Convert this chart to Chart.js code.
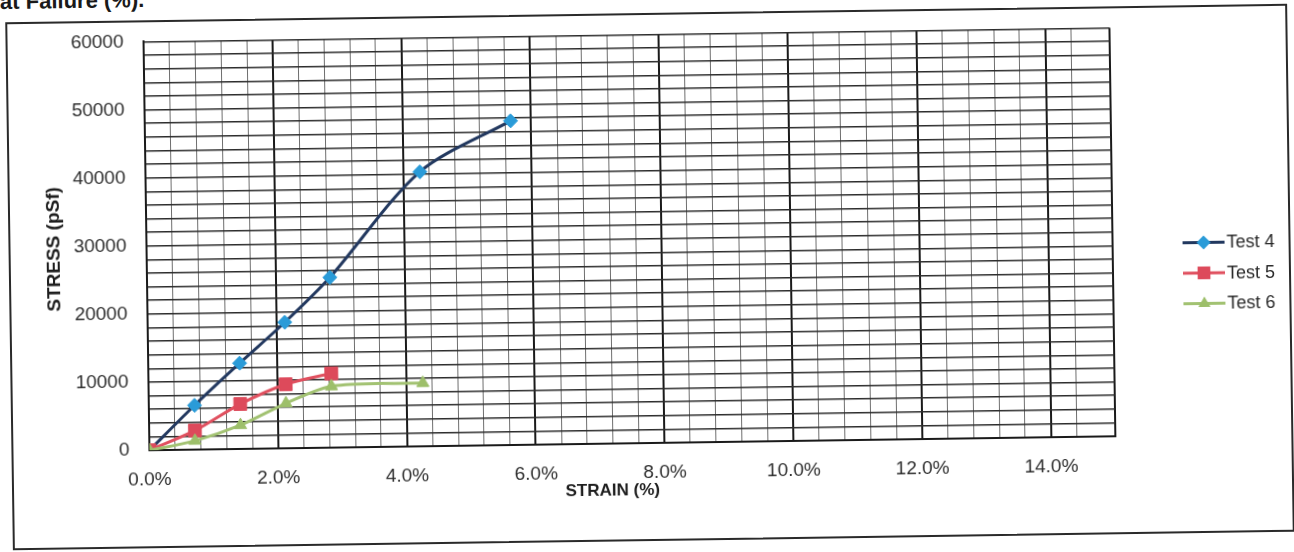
<!DOCTYPE html>
<html>
<head>
<meta charset="utf-8">
<title>Stress vs Strain</title>
<script src="https://cdn.jsdelivr.net/npm/chart.js"></script>
<style>
    html, body {
        margin: 0;
        padding: 0;
        background: #fff;
        width: 1294px;
        height: 552px;
        overflow: hidden;
        font-family: Arial, "Liberation Sans", sans-serif;
    }
    #heading {
        position: absolute;
        left: 0;
        top: -12px;
        font-weight: bold;
        font-size: 22px;
        color: #1a1a1a;
        transform: rotate(-0.8deg);
    }
    #frame {
        position: absolute;
        left: 9px;
        top: 13px;
        width: 1278px;
        height: 524px;
        border: 2px solid #2a2a2a;
        transform: rotate(-0.83deg);
        background: #fff;
    }
    /* canvas starts a little above the frame so the plot top sits close to the border */
    #frame canvas {
        position: absolute;
        left: 0;
        top: -12px;
    }
</style>
</head>
<body>
<div id="heading">at Failure (%).</div>
<div id="frame">
    <canvas id="stressChart" width="1278" height="536"></canvas>
</div>
<script>
// Strain is stored as a fraction, stress in psf
const strainTest4 = [0, 0.0071, 0.0142, 0.0213, 0.0284, 0.0426, 0.0568];
const stressTest4 = [0, 6500, 12600, 18500, 25000, 40300, 47600];

const strainTest5 = [0, 0.0071, 0.0142, 0.0213, 0.0284];
const stressTest5 = [0, 2800, 6600, 9400, 10900];

const strainTest6 = [0, 0.0071, 0.0142, 0.0213, 0.0284, 0.0426];
const stressTest6 = [0, 1300, 3500, 6600, 9000, 9300];

const seriesNames = ['Test 4', 'Test 5', 'Test 6'];

// axis ranges: labelled every 2% / 10000, grid every 0.4% / 2000
const strainMax = 0.15;
const strainGrid = 0.004;
const strainLabelEvery = 0.02;
const stressMax = 60000;
const stressGrid = 2000;
const stressLabelEvery = 10000;

const xTitle = 'STRAIN (%)';
const yTitle = 'STRESS (pSf)';

const FONT = 'Arial, "Liberation Sans", sans-serif';

const lineColors = ['#22385f', '#e0505f', '#a2c272'];
const markerColors = ['#2a9bd8', '#dd4a5b', '#9dbf6a'];
const markerStyles = ['rectRot', 'rect', 'triangle'];
const markerSizes = [7, 9, 7];

function toPoints(xs, ys) {
    return xs.map((x, i) => ({ x: x, y: ys[i] }));
}

function isMultiple(value, step) {
    const r = value / step;
    return Math.abs(r - Math.round(r)) < 1e-6;
}

/**
 * Draws a legend marker the same way Chart.js shapes its points
 */
function drawMarker(ctx, style, x, y, r) {
    ctx.beginPath();
    if (style === 'rectRot') {
        ctx.moveTo(x, y - r);
        ctx.lineTo(x + r, y);
        ctx.lineTo(x, y + r);
        ctx.lineTo(x - r, y);
    } else if (style === 'rect') {
        const s = r * Math.SQRT1_2;
        ctx.rect(x - s, y - s, 2 * s, 2 * s);
    } else {
        const h = r * 1.5;
        ctx.moveTo(x, y - r);
        ctx.lineTo(x + r * 0.866, y + h - r);
        ctx.lineTo(x - r * 0.866, y + h - r);
    }
    ctx.closePath();
    ctx.fill();
}

// axis titles and the line+marker legend on the right
const overlayPlugin = {
    id: 'overlay',
    afterDraw(chart) {
        const ctx = chart.ctx;
        const a = chart.chartArea;

        ctx.save();
        ctx.fillStyle = '#1e1e1e';
        ctx.textAlign = 'center';
        ctx.textBaseline = 'middle';
        ctx.font = 'bold 17px ' + FONT;
        ctx.fillText(xTitle, a.left + (a.right - a.left) * 0.479, a.bottom + 47);

        ctx.translate(44, (a.top + a.bottom) / 2 + 2);
        ctx.rotate(-Math.PI / 2);
        ctx.font = 'bold 19px ' + FONT;
        ctx.fillText(yTitle, 0, 0);
        ctx.restore();

        ctx.save();
        ctx.font = '18px ' + FONT;
        ctx.textAlign = 'left';
        ctx.textBaseline = 'middle';
        seriesNames.forEach((name, i) => {
            const y = a.top + 216 + i * 30.5;
            const x0 = a.right + 70;
            const x1 = a.right + 112;
            ctx.strokeStyle = lineColors[i];
            ctx.lineWidth = 3;
            ctx.beginPath();
            ctx.moveTo(x0, y);
            ctx.lineTo(x1, y);
            ctx.stroke();
            ctx.fillStyle = markerColors[i];
            drawMarker(ctx, markerStyles[i], (x0 + x1) / 2, y, markerSizes[i]);
            ctx.fillStyle = '#2a2a2a';
            ctx.fillText(name, x1 + 2, y + 1);
        });
        ctx.restore();
    }
};

const seriesData = [
    toPoints(strainTest4, stressTest4),
    toPoints(strainTest5, stressTest5),
    toPoints(strainTest6, stressTest6)
];

const datasets = seriesNames.map((name, i) => ({
    label: name,
    data: seriesData[i],
    borderColor: lineColors[i],
    borderWidth: 3,
    backgroundColor: markerColors[i],
    pointBackgroundColor: markerColors[i],
    pointBorderColor: markerColors[i],
    pointBorderWidth: 1,
    pointStyle: markerStyles[i],
    pointRadius: markerSizes[i],
    tension: 0.3,
    order: seriesNames.length - i
}));

new Chart(document.getElementById('stressChart'), {
    type: 'line',
    data: { datasets: datasets },
    options: {
        responsive: false,
        animation: false,
        layout: {
            padding: { left: 0, top: 6, right: 176, bottom: 0 }
        },
        plugins: {
            legend: { display: false },
            tooltip: { enabled: false }
        },
        scales: {
            x: {
                type: 'linear',
                min: 0,
                max: strainMax,
                afterFit: (scale) => { scale.height = 96; },
                border: { display: true, color: '#1a1a1a', width: 2 },
                grid: {
                    drawTicks: false,
                    color: (c) => isMultiple(c.tick.value, strainLabelEvery) || c.tick.value >= strainMax ? '#1a1a1a' : '#6e6e6e',
                    lineWidth: (c) => isMultiple(c.tick.value, strainLabelEvery) || c.tick.value >= strainMax ? 2 : 1
                },
                ticks: {
                    stepSize: strainGrid,
                    autoSkip: false,
                    maxRotation: 0,
                    padding: 18,
                    color: '#2e2e2e',
                    font: { family: FONT, size: 19 },
                    callback: (v) => (isMultiple(v, strainLabelEvery) && v < strainMax - 1e-9) ? (v * 100).toFixed(1) + '%' : ''
                }
            },
            y: {
                min: 0,
                max: stressMax,
                afterFit: (scale) => { scale.width = 136; },
                border: { display: true, color: '#1a1a1a', width: 2 },
                grid: {
                    drawTicks: false,
                    color: '#2c2c2c',
                    lineWidth: 1.4
                },
                ticks: {
                    stepSize: stressGrid,
                    autoSkip: false,
                    padding: 20,
                    color: '#2e2e2e',
                    font: { family: FONT, size: 19 },
                    callback: (v) => isMultiple(v, stressLabelEvery) ? String(v) : ''
                }
            }
        }
    },
    plugins: [overlayPlugin]
});
</script>
</body>
</html>
